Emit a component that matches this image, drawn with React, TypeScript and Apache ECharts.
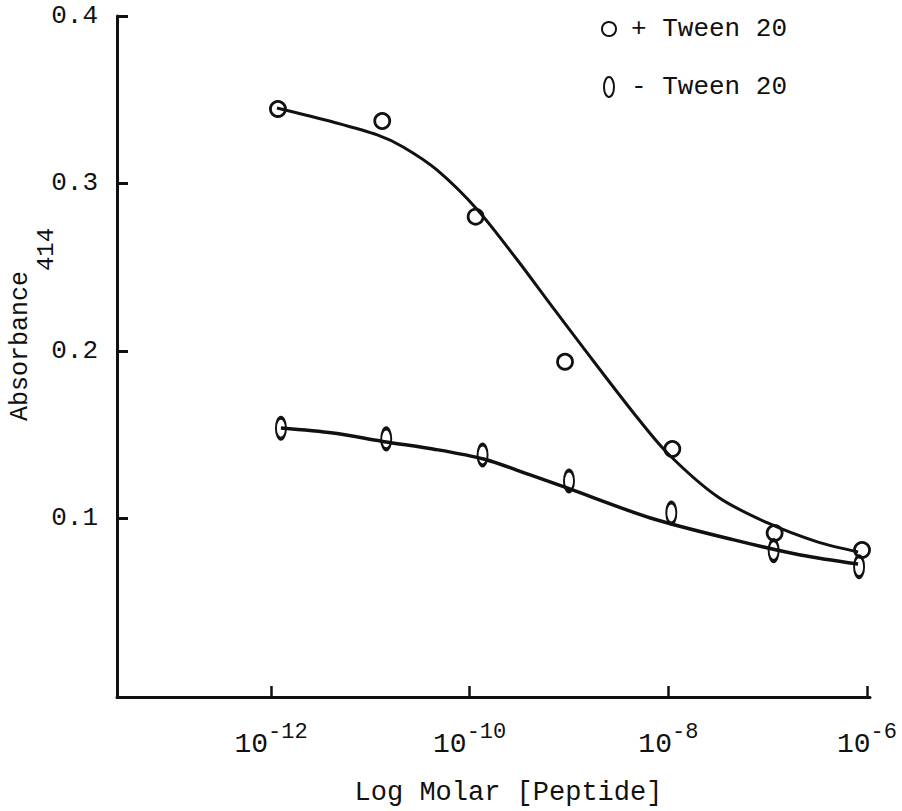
import React, { useEffect, useRef } from "react";
import * as echarts from "echarts";

// log10 molar concentration (x) and absorbance (y)
const plusX = [-11.93, -10.88, -9.94, -9.04, -7.96, -6.93, -6.05];
const plusY = [0.3445, 0.3373, 0.2802, 0.1936, 0.1415, 0.0913, 0.0812];
const minusX = [-11.9, -10.84, -9.87, -9.0, -7.97, -6.94, -6.08];
const minusY = [0.1539, 0.1475, 0.1379, 0.1224, 0.1033, 0.0808, 0.0712];

// fitted curves
const plusCurveX = [-11.94, -11.375, -10.93, -10.67, -10.33, -9.92, -9.52, -9.19, -8.855, -8.35, -8.01, -7.5, -7.0, -6.5, -6.09];
const plusCurveY = [0.3451, 0.3367, 0.329, 0.3218, 0.3081, 0.2842, 0.2543, 0.2281, 0.2018, 0.163, 0.1391, 0.1128, 0.0973, 0.086, 0.08];
const minusCurveX = [-11.9, -11.375, -10.84, -10.37, -9.86, -9.39, -9.02, -8.18, -7.34, -6.67, -6.09];
const minusCurveY = [0.154, 0.151, 0.1457, 0.1415, 0.1355, 0.126, 0.1182, 0.1003, 0.0872, 0.0782, 0.0728];

const xTicks = [-12, -10, -8, -6];
const yTicks = [0.1, 0.2, 0.3, 0.4];
const seriesNames = ["+ Tween 20", "- Tween 20"];

const FONT = "Liberation Mono";
const INK = "#111";
const ELLIPSE = "path://M5,0 A5,10 0 1,1 5,20 A5,10 0 1,1 5,0 Z";
const X_MIN = -13.55;
const X_MAX = -5.97;
const Y_MIN = -0.0066;
const Y_MAX = 0.4;

const zip = (xs: number[], ys: number[]) => xs.map((x, i) => [x, ys[i]]);

export default function App() {
  const ref = useRef<HTMLDivElement>(null);
  useEffect(() => {
    if (!ref.current) return;
    const chart = echarts.init(ref.current, undefined, { renderer: "svg" });
    chart.setOption({
      animation: false,
      backgroundColor: "#fff",
      grid: { left: 117, right: 32, top: 16, bottom: 114, containLabel: false, outerBoundsMode: "none" },
      legend: {
        orient: "vertical",
        left: 596,
        top: 11,
        itemWidth: 14,
        itemHeight: 20,
        itemGap: 32,
        textStyle: { fontFamily: FONT, fontSize: 26, color: INK, padding: [0, 0, 0, 10] },
        data: [
          { name: seriesNames[0], icon: "circle" },
          { name: seriesNames[1], icon: ELLIPSE },
        ],
      },
      xAxis: {
        type: "value",
        min: X_MIN,
        max: X_MAX,
        name: "Log Molar [Peptide]",
        nameLocation: "middle",
        nameGap: 82,
        nameMoveOverlap: false,
        nameTextStyle: { fontFamily: FONT, fontSize: 27, color: INK, padding: [0, 0, 0, 30] },
        splitLine: { show: false },
        axisLine: { show: true, onZero: false, lineStyle: { color: INK, width: 3 } },
        axisTick: { show: true, inside: true, length: 11, lineStyle: { color: INK, width: 2.5 }, customValues: xTicks },
        axisLabel: {
          customValues: xTicks,
          margin: 24,
          formatter: (v: number) => `{b|10}{s|${v}}`,
          rich: {
            b: { fontFamily: FONT, fontSize: 28, color: INK },
            s: { fontFamily: FONT, fontSize: 22, color: INK, padding: [0, 0, 24, 0] },
          },
        },
      },
      yAxis: {
        type: "value",
        min: Y_MIN,
        max: Y_MAX,
        name: "{a|Absorbance}{s|414}",
        nameLocation: "middle",
        nameGap: 59,
        nameRotate: 90,
        nameMoveOverlap: false,
        nameTextStyle: {
          padding: [0, 0, 0, 64],
          rich: {
            a: { fontFamily: FONT, fontSize: 25, color: INK },
            s: { fontFamily: FONT, fontSize: 24, color: INK, padding: [52, 0, 0, 0] },
          },
        },
        splitLine: { show: false },
        axisLine: { show: true, onZero: false, lineStyle: { color: INK, width: 3 } },
        axisTick: { show: true, inside: true, length: 11, lineStyle: { color: INK, width: 3 }, customValues: yTicks },
        axisLabel: {
          customValues: yTicks,
          margin: 19,
          fontFamily: FONT,
          fontSize: 26,
          color: INK,
          formatter: (v: number) => v.toFixed(1),
        },
      },
      series: [
        {
          name: "fit +",
          type: "line",
          data: zip(plusCurveX, plusCurveY),
          smooth: 0.3,
          showSymbol: false,
          symbol: "none",
          lineStyle: { color: INK, width: 3 },
          z: 2,
        },
        {
          name: "fit -",
          type: "line",
          data: zip(minusCurveX, minusCurveY),
          smooth: 0.3,
          showSymbol: false,
          symbol: "none",
          lineStyle: { color: INK, width: 3.5 },
          z: 2,
        },
        {
          name: seriesNames[0],
          type: "scatter",
          data: zip(plusX, plusY),
          symbol: "circle",
          symbolSize: 15,
          itemStyle: { color: "rgba(255,255,255,0)", borderColor: INK, borderWidth: 2.8, opacity: 1 },
          z: 3,
        },
        {
          name: seriesNames[1],
          type: "scatter",
          data: zip(minusX, minusY),
          symbol: ELLIPSE,
          symbolSize: [10, 21],
          itemStyle: { color: "rgba(255,255,255,0)", borderColor: INK, borderWidth: 2.8, opacity: 1 },
          z: 3,
        },
      ],
    });
    return () => chart.dispose();
  }, []);
  return <div ref={ref} style={{ width: 902, height: 811, position: "absolute", left: 0, top: 0 }} />;
}
